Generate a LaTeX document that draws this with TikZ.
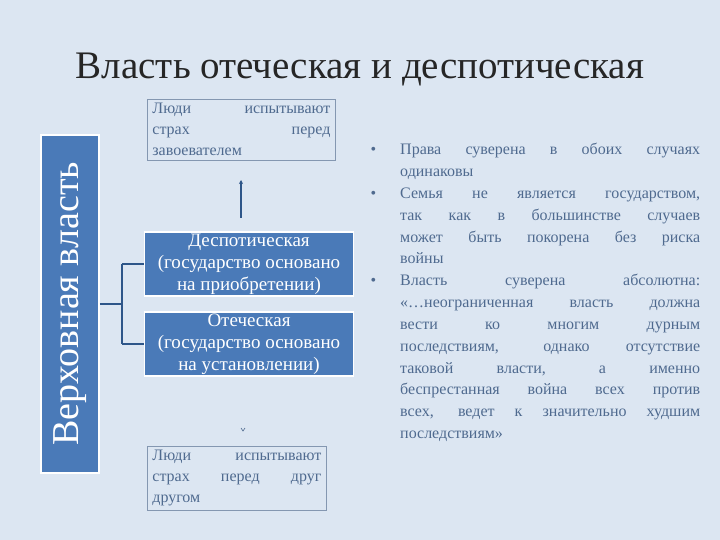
\documentclass[tikz,border=0pt]{standalone}
\usepackage{fontspec}
\setmainfont{Liberation Serif}
\usetikzlibrary{arrows.meta}
\definecolor{bg}{HTML}{DCE6F2}
\definecolor{dk}{HTML}{4A7AB8}
\definecolor{tx}{HTML}{4F6A8F}
\definecolor{ln}{HTML}{2E5689}
\tikzset{
 lightbox/.style={draw=tx!70,line width=0.8bp,inner xsep=5bp,inner ysep=4bp,text=tx,font=\fontsize{16bp}{21bp}\selectfont,align=left,anchor=north west},
 darkbox/.style={fill=dk,draw=white,line width=1.5bp,text=white,font=\fontsize{19bp}{22bp}\selectfont,align=center,minimum width=209bp,minimum height=64bp,inner sep=1bp},
 conn/.style={draw=ln,line width=1.5bp}
}
\begin{document}
\begin{tikzpicture}[x=1bp,y=-1bp]
\fill[bg] (0,0) rectangle (720,540);
\useasboundingbox (0,0) rectangle (720,540);
\node[font=\fontsize{39bp}{42bp}\selectfont,text=black!85] (title) at (360,70) {Власть отеческая и деспотическая};
\node[fill=dk,draw=white,line width=1.5bp,minimum width=338bp,minimum height=58bp,rotate=90,text=white,font=\fontsize{38bp}{40bp}\selectfont,inner sep=0pt] (vb) at (70,304) {Верховная власть};
\node[lightbox,text width=178bp] (top) at (147,99) {Люди \hfill испытывают\\страх \hfill перед\\завоевателем};
\node[darkbox] (d1) at (249,264) {Деспотическая\\(государство основано\\на приобретении)};
\node[darkbox] (d2) at (249,344) {Отеческая\\(государство основано\\на установлении)};
\node[lightbox,text width=169bp] (bot) at (147,446) {Люди \hfill испытывают\\страх \hfill перед \hfill друг\\другом};
\coordinate (j) at (122,304);
\draw[conn] (vb.south) -- (j);
\draw[conn] (j |- d1.west) -- (j |- d2.west);
\draw[conn] (j |- d1.west) -- (d1.west);
\draw[conn] (j |- d2.west) -- (d2.west);
\coordinate (a1) at (241,218);
\draw[conn,-{Stealth[length=4bp,width=4bp]}] (a1) -- (241,180);
\draw[draw=tx,line width=0.6bp] (241,428) -- (243,431) -- (245,428);
\node[anchor=north west,text width=332bp,align=justify,text=tx,font=\fontsize{16bp}{21.8bp}\selectfont,inner sep=0pt] (txt) at (368,133) {%
\begin{list}{•}{\leftmargin=32bp\labelsep=24bp\labelwidth=8bp\itemsep=0pt\parsep=0pt\topsep=0pt}
\item Права суверена в обоих случаях \linebreak одинаковы
\item Семья не является государством, \linebreak так как в большинстве случаев \linebreak может быть покорена без риска \linebreak войны
\item Власть суверена абсолютна: \linebreak «…неограниченная власть должна \linebreak вести ко многим дурным \linebreak последствиям, однако отсутствие \linebreak таковой власти, а именно \linebreak беспрестанная война всех против \linebreak всех, ведет к значительно худшим \linebreak последствиям»
\end{list}};
\end{tikzpicture}
\end{document}
